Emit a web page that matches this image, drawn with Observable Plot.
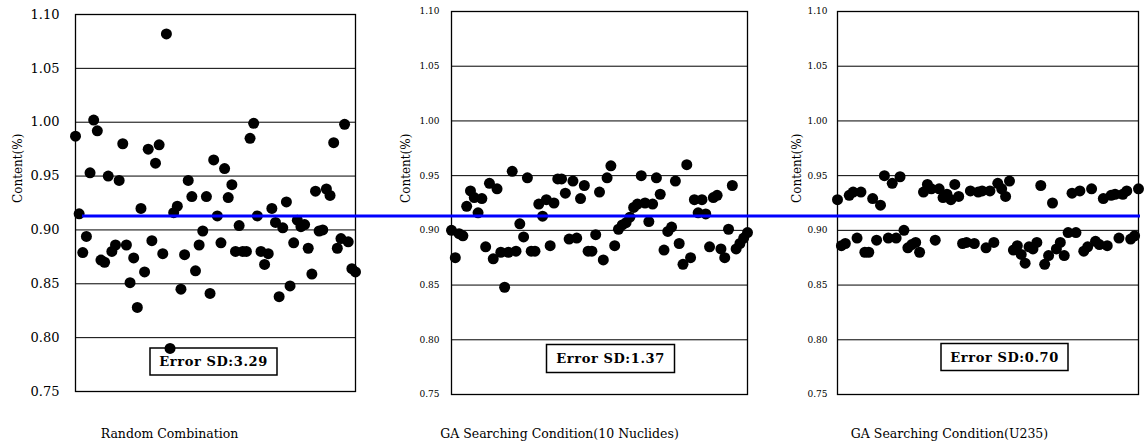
<!DOCTYPE html>
<html>
<head>
<meta charset="utf-8">
<script src="https://cdn.jsdelivr.net/npm/d3@7"></script>
<script src="https://cdn.jsdelivr.net/npm/@observablehq/plot@0.6"></script>
<style>
  html, body { margin: 0; padding: 0; background: #fff; }
  #chart { position: relative; width: 1144px; height: 446px; overflow: hidden; }
  #chart svg { position: absolute; left: 0; top: 0; }
</style>
</head>
<body>
<div id="chart"></div>
<script>
// ---- data ----
const yTicks = [0.75, 0.80, 0.85, 0.90, 0.95, 1.00, 1.05, 1.10];
const gridTicks = [0.80, 0.85, 0.90, 0.95, 1.00, 1.05];
const meanContent = 0.913;

const panelTitles = ["Random Combination", "GA Searching Condition(10 Nuclides)", "GA Searching Condition(U235)"];
const errorLabels = ["Error SD:3.29", "Error SD:1.37", "Error SD:0.70"];
const axisLabel = "Content(%)";

const randomValues = [
  0.987, 0.915, 0.879, 0.894, 0.953, 1.002, 0.992, 0.872, 0.870, 0.950,
  0.880, 0.886, 0.946, 0.980, 0.886, 0.851, 0.874, 0.828, 0.920, 0.861,
  0.975, 0.890, 0.962, 0.979, 0.878, 1.082, 0.790, 0.916, 0.922, 0.845,
  0.877, 0.946, 0.931, 0.862, 0.886, 0.899, 0.931, 0.841, 0.965, 0.913,
  0.888, 0.957, 0.930, 0.942, 0.880, 0.904, 0.880, 0.880, 0.985, 0.999,
  0.913, 0.880, 0.868, 0.878, 0.920, 0.907, 0.838, 0.902, 0.926, 0.848,
  0.888, 0.909, 0.903, 0.905, 0.883, 0.859, 0.936, 0.899, 0.900, 0.938,
  0.932, 0.981, 0.883, 0.892, 0.998, 0.889, 0.864, 0.861
];

const nuclideValues = [
  0.900, 0.875, 0.897, 0.895, 0.922, 0.936, 0.930, 0.916, 0.929, 0.885,
  0.943, 0.874, 0.938, 0.880, 0.848, 0.880, 0.954, 0.881, 0.906, 0.894,
  0.948, 0.881, 0.881, 0.924, 0.913, 0.928, 0.886, 0.925, 0.947, 0.947,
  0.934, 0.892, 0.945, 0.893, 0.929, 0.941, 0.881, 0.881, 0.896, 0.935,
  0.873, 0.948, 0.959, 0.886, 0.901, 0.905, 0.907, 0.912, 0.921, 0.924,
  0.950, 0.925, 0.908, 0.924, 0.948, 0.933, 0.882, 0.899, 0.903, 0.945,
  0.888, 0.869, 0.960, 0.875, 0.928, 0.916, 0.928, 0.915, 0.885, 0.930,
  0.932, 0.883, 0.875, 0.901, 0.941, 0.883, 0.888, 0.893, 0.898
];

const u235Values = [
  0.928, 0.886, 0.888, 0.932, 0.935, 0.893, 0.935, 0.880, 0.880, 0.929,
  0.891, 0.923, 0.950, 0.893, 0.943, 0.893, 0.949, 0.900, 0.884, 0.887,
  0.889, 0.880, 0.935, 0.942, 0.938, 0.891, 0.938, 0.930, 0.933, 0.928,
  0.942, 0.931, 0.888, 0.889, 0.936, 0.888, 0.935, 0.936, 0.884, 0.936,
  0.889, 0.943, 0.938, 0.931, 0.945, 0.882, 0.886, 0.878, 0.870, 0.885,
  0.883, 0.889, 0.941, 0.869, 0.877, 0.925, 0.883, 0.889, 0.877, 0.898,
  0.934, 0.898, 0.936, 0.881, 0.885, 0.938, 0.890, 0.887, 0.929, 0.886,
  0.932, 0.933, 0.893, 0.933, 0.936, 0.892, 0.895, 0.938
];

const seriesList = [randomValues, nuclideValues, u235Values];

// ---- layout / style (not data) ----
const W = 1144, H = 446;
const layouts = [
  {ml: 75,  mr: 789, mt: 14, mb: 55, tickFont: 13, tickPad: 16, labelDx: -57.5, titleDx: -46,   titleDy: 46, sdDx: 138, sdDy: -25.5, boxW: 127, boxH: 27},
  {ml: 451, mr: 397, mt: 11, mb: 52, tickFont: 9,  tickPad: 12, labelDx: -45,   titleDx: -40,   titleDy: 43, sdDx: 159, sdDy: -31.5, boxW: 128, boxH: 28},
  {ml: 837, mr: 6,   mt: 11, mb: 52, tickFont: 9,  tickPad: 10, labelDx: -40,   titleDx: -38.5, titleDy: 43, sdDx: 167, sdDy: -33,   boxW: 127, boxH: 27}
];
const FONT = "DejaVu Serif";

const chart = document.getElementById("chart");

seriesList.forEach((values, i) => {
  const L = layouts[i];
  const pts = values.map((v, k) => ({sample: k, content: v}));
  const svg = Plot.plot({
    width: W, height: H,
    marginLeft: L.ml, marginRight: L.mr, marginTop: L.mt, marginBottom: L.mb,
    style: {background: "transparent", fontFamily: FONT, fontSize: L.tickFont + "px", color: "black", overflow: "visible"},
    x: {domain: [0, values.length - 1], axis: null},
    y: {domain: [0.75, 1.10], axis: null},
    marks: [
      Plot.gridY(gridTicks, {stroke: "black", strokeOpacity: 1, strokeWidth: 1}),
      Plot.frame({stroke: "black", strokeWidth: 1.3}),
      Plot.axisY(yTicks, {tickSize: 0, tickPadding: L.tickPad, tickFormat: d3.format(".2f"), fontSize: L.tickFont, label: null}),
      Plot.dot(pts, {x: "sample", y: "content", r: 5.5, fill: "black", stroke: "none"}),
      Plot.text([axisLabel], {frameAnchor: "left", rotate: -90, dx: L.labelDx, fontSize: 12, fill: "black"}),
      Plot.text([panelTitles[i]], {frameAnchor: "bottom", dx: L.titleDx, dy: L.titleDy, fontSize: 12.5, fill: "black"}),
      Plot.text([errorLabels[i]], {frameAnchor: "bottom-left", dx: L.sdDx, dy: L.sdDy, textAnchor: "middle", fontSize: 13, fontWeight: "bold", fill: "black"})
    ]
  });
  chart.appendChild(svg);
  // box around the error label
  const t = Array.from(svg.querySelectorAll("text")).find(e => e.textContent === errorLabels[i]);
  if (t) {
    t.setAttribute("letter-spacing", "0.6");
    const bb = t.getBBox();
    const cx = bb.x + bb.width / 2, cy = bb.y + bb.height / 2;
    const rect = document.createElementNS("http://www.w3.org/2000/svg", "rect");
    rect.setAttribute("x", cx - L.boxW / 2);
    rect.setAttribute("y", cy - L.boxH / 2);
    rect.setAttribute("width", L.boxW);
    rect.setAttribute("height", L.boxH);
    rect.setAttribute("fill", "none");
    rect.setAttribute("stroke", "black");
    rect.setAttribute("stroke-width", 1.5);
    const tr = t.getAttribute("transform");
    if (tr) rect.setAttribute("transform", tr);
    t.parentNode.insertBefore(rect, t);
  }
});

// overlay: reference mean line spanning all panels
const overlay = Plot.plot({
  width: W, height: H,
  marginLeft: 82, marginRight: 4, marginTop: 14, marginBottom: 55,
  style: {background: "transparent"},
  y: {domain: [0.75, 1.10], axis: null},
  marks: [Plot.ruleY([meanContent], {stroke: "#0000ff", strokeWidth: 3})]
});
chart.appendChild(overlay);
</script>
</body>
</html>
